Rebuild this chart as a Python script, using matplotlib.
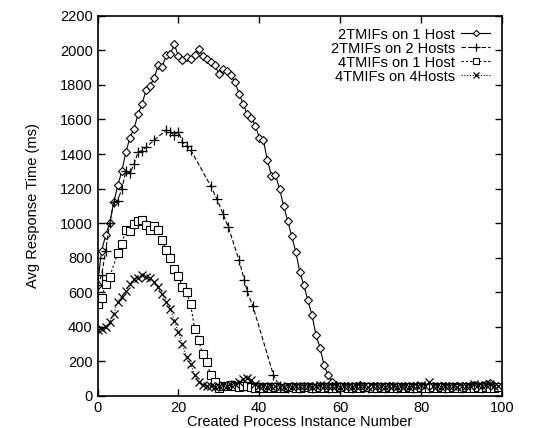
import numpy as np
import matplotlib
matplotlib.use("Agg")
import matplotlib.pyplot as plt

plt.rcParams["font.family"] = ["Liberation Sans", "DejaVu Sans"]
plt.rcParams["font.size"] = 10.5

# 2TMIFs on 1 Host (diamonds), one point per instance 0..99
host1_x = list(range(0, 100))
host1_y = [640, 840, 930, 1000, 1120, 1220, 1300, 1410, 1495, 1545,
           1630, 1690, 1770, 1795, 1840, 1915, 1905, 1975, 1980, 2035,
           1965, 1945, 1960, 1950, 1975, 2010, 1965, 1950, 1935, 1915,
           1865, 1890, 1880, 1855, 1815, 1750, 1690, 1630, 1610, 1565,
           1495, 1480, 1365, 1275, 1280, 1200, 1100, 1015, 925, 835,
           720, 640, 555, 470, 355, 280, 180, 120, 80, 65,
           58, 55, 60, 52, 58, 62, 55, 50, 56, 60,
           54, 52, 58, 55, 50, 54, 57, 52, 55, 60,
           53, 50, 56, 58, 52, 55, 60, 54, 50, 57,
           55, 52, 58, 62, 55, 60, 66, 72, 60, 52]

# 2TMIFs on 2 Hosts (plus)
hosts2_x = [0, 1, 2, 3, 4, 5, 6, 7, 8, 9, 10, 11, 12, 14, 17, 18, 19, 20,
            21, 22, 23, 28, 29.5, 31, 32.3, 35, 36.3, 37, 38.4, 43.5,
            45, 46, 47, 48, 49, 50, 51, 52, 53, 54,
            55, 56, 57, 58, 59, 60, 61, 62, 63, 64,
            65, 66, 67, 68, 69, 70, 71, 72, 73, 74,
            75, 76, 77, 78, 79, 80, 81, 82, 83, 84,
            85, 86, 87, 88, 89, 90, 91, 92, 93, 94,
            95, 96, 97, 98, 99]
hosts2_y = [640, 700, 840, 1000, 1120, 1130, 1200, 1300, 1290, 1340, 1410,
            1420, 1440, 1480, 1540, 1525, 1510, 1530, 1470, 1445, 1425, 1215,
            1140, 1055, 980, 785, 670, 605, 520, 120,
            55, 50, 48, 52, 50, 47, 53, 50, 48, 52,
            55, 50, 47, 50, 53, 48, 50, 52, 47, 50,
            54, 50, 48, 51, 49, 52, 47, 50, 53, 48,
            50, 52, 49, 47, 51, 50, 54, 48, 50, 52,
            49, 47, 51, 50, 53, 48, 50, 52, 49, 51,
            48, 50, 53, 49, 50]

# 4TMIFs on 1 Host (squares)
host1b_x = [0, 1, 2, 3, 5, 6, 7, 8, 9, 10, 11, 12, 13, 14, 15, 16, 17, 18,
            19, 20, 21, 22, 23, 24, 25, 26, 27, 28, 29, 30] + list(range(31, 100))
host1b_y = [530, 565, 650, 690, 825, 880, 960, 955, 995, 1015, 1020, 990,
            960, 985, 960, 900, 845, 800, 735, 695, 630, 600, 530, 390, 325,
            240, 195, 120, 80, 45,
            60, 55, 62, 58, 52, 55, 60, 50, 48, 52,
            45, 50, 47, 52, 48, 45, 50, 53, 48, 46,
            50, 52, 47, 45, 50, 48, 53, 47, 45, 50,
            52, 46, 48, 50, 45, 49, 52, 47, 45, 50,
            48, 52, 46, 45, 50, 47, 52, 48, 45, 50,
            46, 48, 52, 45, 50, 47, 48, 52, 46, 45,
            50, 48, 47, 52, 45, 50, 48, 46, 50]

# 4TMIFs on 4Hosts (crosses)
hosts4_x = list(range(0, 100))
hosts4_y = [380, 385, 400, 425, 475, 545, 575, 610, 650, 675,
            685, 700, 690, 680, 660, 630, 590, 545, 505, 435,
            370, 300, 225, 185, 120, 80, 65, 58,
            55, 50, 60, 65, 58, 62, 70, 80, 100, 105,
            90, 68, 58, 55, 52, 58, 55, 50, 53, 56,
            52, 55, 58, 60, 55, 52, 56, 62, 58, 55,
            60, 57, 54, 58, 56, 52, 55, 60, 57, 53,
            56, 58, 55, 52, 60, 57, 54, 58, 55, 52,
            56, 58, 62, 55, 80, 58, 56, 53, 55, 58,
            56, 54, 58, 60, 55, 68, 62, 58, 65, 70,
            60, 55]

labels = ["2TMIFs on 1 Host", "2TMIFs on 2 Hosts", "4TMIFs on 1 Host", "4TMIFs on 4Hosts"]

fig = plt.figure(figsize=(5.45, 4.28), dpi=100)
ax = fig.add_axes([0.179, 0.075, 0.742, 0.888])

ax.plot(host1_x, host1_y, color="black", lw=0.8, ls="-", marker="D", ms=4,
        mfc="white", mec="black", mew=0.8, label=labels[0])
ax.plot(hosts2_x, hosts2_y, color="black", lw=0.8, ls=(0, (4, 2)), marker="+", ms=7,
        mew=0.9, label=labels[1])
ax.plot(host1b_x, host1b_y, color="black", lw=0.8, ls=(0, (2, 2)), marker="s", ms=6,
        mfc="white", mec="black", mew=0.8, label=labels[2])
ax.plot(hosts4_x, hosts4_y, color="black", lw=0.8, ls=(0, (1, 1.5)), marker="x", ms=6,
        mew=0.9, label=labels[3])

ax.set_xlim(0, 100)
ax.set_ylim(0, 2200)
ax.set_xticks(np.arange(0, 101, 20))
ax.set_yticks(np.arange(0, 2201, 200))
ax.tick_params(direction="in", length=5, width=1, top=True, right=True, labelsize=10.5)
for sp in ax.spines.values():
    sp.set_linewidth(1.2)

ax.set_xlabel("Created Process Instance Number", labelpad=0)
ax.set_ylabel("Avg Response Time (ms)", labelpad=14)

ax.legend(loc="upper right", frameon=False, markerfirst=False, handlelength=2.0,
          handletextpad=0.4, labelspacing=0.0, borderaxespad=0.4, fontsize=10.5,
          markerscale=0.8)

fig.savefig("out.png", dpi=100)
